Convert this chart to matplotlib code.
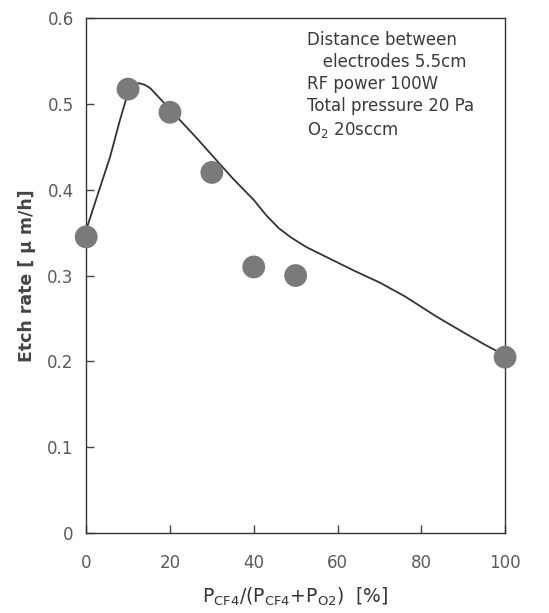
import matplotlib.pyplot as plt

# measured points
ratio = [0, 10, 20, 30, 40, 50, 100]
etch = [0.345, 0.517, 0.490, 0.420, 0.310, 0.300, 0.205]

# hand-drawn trend curve
curve_x = [0, 3, 5.7, 8, 9.7, 11, 12.5, 14, 15.3, 18, 21.6, 26, 30.4, 35, 40, 43, 46, 49, 52.6, 58, 63.8, 70, 76, 83.7, 90, 95, 100]
curve_y = [0.353, 0.398, 0.438, 0.480, 0.508, 0.519, 0.524, 0.522, 0.518, 0.504, 0.485, 0.462, 0.438, 0.413, 0.388, 0.370, 0.355, 0.344, 0.333, 0.320, 0.306, 0.292, 0.276, 0.252, 0.234, 0.220, 0.207]

plt.rcParams['font.family'] = ['DejaVu Sans']

fig = plt.figure(figsize=(5.49, 6.13), dpi=100)
ax = fig.add_axes([0.157, 0.130, 0.763, 0.841])

ax.plot(curve_x, curve_y, color='#333333', lw=1.3, zorder=2)
ax.scatter(ratio, etch, s=270, color='#7a7a7a', edgecolors='none', zorder=3, clip_on=False)

ax.set_xlim(0, 100)
ax.set_ylim(0, 0.6)
ax.set_xticks([0, 20, 40, 60, 80, 100])
ax.set_yticks([0, 0.1, 0.2, 0.3, 0.4, 0.5, 0.6])
ax.set_yticklabels(['0', '0.1', '0.2', '0.3', '0.4', '0.5', '0.6'])
ax.tick_params(direction='in', length=6, width=1, colors='#444444', labelcolor='#5a5a5a',
               labelsize=12, pad=9)
ax.tick_params(axis='x', pad=15)
for s in ax.spines.values():
    s.set_color('#333333')
    s.set_linewidth(1)

ax.set_ylabel('Etch rate [ μ m/h]', fontsize=12.5, fontweight='bold', color='#444444', labelpad=8)
ax.set_xlabel(r'P$_{\mathrm{CF4}}$/(P$_{\mathrm{CF4}}$+P$_{\mathrm{O2}}$)  [%]', fontsize=13.5,
              color='#333333', labelpad=10)

info = 'Distance between\n   electrodes 5.5cm\nRF power 100W\nTotal pressure 20 Pa\nO$_2$ 20sccm'
ax.text(0.527, 0.975, info, transform=ax.transAxes, ha='left', va='top', fontsize=12,
        color='#3a3a3a', linespacing=1.3)

fig.savefig('out.png', dpi=100)
